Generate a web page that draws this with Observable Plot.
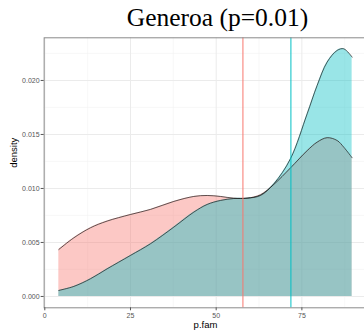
<!DOCTYPE html>
<html><head><meta charset="utf-8">
<script src="https://cdn.jsdelivr.net/npm/d3@7"></script>
<script src="https://cdn.jsdelivr.net/npm/@observablehq/plot@0.6"></script>
<style>
html,body{margin:0;padding:0;overflow:hidden;background:#fff;width:364px;height:333px}
#chart svg{max-width:none!important;display:block}
</style></head>
<body><div id="chart"></div>
<script>
const title = "Generoa (p=0.01)";
const xLabel = "p.fam";
const yLabel = "density";
const xTicks = [0, 25, 50, 75];
const xMinor = [12.5, 37.5, 62.5, 87.5];
const yTicks = [0, 0.005, 0.010, 0.015, 0.020];
const yMinor = [0.0025, 0.0075, 0.0125, 0.0175, 0.0225];
const groups = ["A", "B"];
const groupColors = ["#F8766D", "#00BFC4"];
const meanLines = [57.8, 71.8];
const xs = [4.09, 8.47, 13.33, 18.19, 25.0, 30.83, 37.64, 43.47, 47.37, 51.25, 55.14, 59.03, 62.92, 66.81, 71.67, 76.54, 79.46, 82.37, 85.29, 87.23, 89.66];
const densityA = [0.00435, 0.00543, 0.00636, 0.00698, 0.00759, 0.00806, 0.0088, 0.00926, 0.00935, 0.00926, 0.0091, 0.0091, 0.00941, 0.01037, 0.0119, 0.0135, 0.01429, 0.0147, 0.01444, 0.01382, 0.01284];
const densityB = [0.00056, 0.00093, 0.00164, 0.00256, 0.0038, 0.00488, 0.00642, 0.00781, 0.00852, 0.00889, 0.00907, 0.0091, 0.00935, 0.01043, 0.01275, 0.01691, 0.01954, 0.0217, 0.02278, 0.02293, 0.02216];

const rowsA = xs.map((x, i) => ({x, d: densityA[i], g: groups[0]}));
const rowsB = xs.map((x, i) => ({x, d: densityB[i], g: groups[1]}));
const curve = "catmull-rom";
const sans = "Liberation Sans, Arial, sans-serif";

const plot = Plot.plot({
  width: 368, height: 333,
  marginLeft: 43.65, marginRight: 1.7, marginTop: 37.3, marginBottom: 25.7,
  x: {domain: [-0.19, 93.94]},
  y: {domain: [-0.00105, 0.02395]},
  style: {fontFamily: sans, background: "#fff"},
  marks: [
    Plot.ruleX(xMinor, {stroke: "#f4f4f4", strokeWidth: 0.6}),
    Plot.ruleY(yMinor, {stroke: "#f4f4f4", strokeWidth: 0.6}),
    Plot.ruleX(xTicks, {stroke: "#ebebeb", strokeWidth: 1}),
    Plot.ruleY(yTicks, {stroke: "#ebebeb", strokeWidth: 1}),
    Plot.areaY(rowsA, {x: "x", y: "d", fill: groupColors[0], fillOpacity: 0.4, curve}),
    Plot.areaY(rowsB, {x: "x", y: "d", fill: groupColors[1], fillOpacity: 0.4, curve}),
    Plot.line(rowsA, {x: "x", y: "d", stroke: "#1a1a1a", strokeWidth: 0.7, curve}),
    Plot.line(rowsB, {x: "x", y: "d", stroke: "#1a1a1a", strokeWidth: 0.7, curve}),
    Plot.ruleX([meanLines[0]], {stroke: groupColors[0], strokeWidth: 1}),
    Plot.ruleX([meanLines[1]], {stroke: groupColors[1], strokeWidth: 1}),
    Plot.frame({stroke: "#8a8a8a", strokeWidth: 1}),
    Plot.axisX(xTicks, {tickSize: 3, tickPadding: 2, fontSize: 7, color: "#555", label: null}),
    Plot.axisY(yTicks, {tickSize: 3, tickPadding: 1.5, fontSize: 7, color: "#555", label: null, tickFormat: d3.format(".3f")}),
    Plot.text([xLabel], {text: d => d, frameAnchor: "bottom", dy: 20.2, lineAnchor: "bottom", fontSize: 9.5, fill: "#000"}),
    Plot.text([yLabel], {text: d => d, frameAnchor: "left", dx: -30, dy: -5, rotate: -90, lineAnchor: "middle", fontSize: 9.5, fill: "#000"}),
    Plot.text([title], {text: d => d, frameAnchor: "top", dx: 12, dy: -12.3, lineAnchor: "bottom", fontSize: 25.5, fontFamily: "Liberation Serif, Times New Roman, serif", fill: "#000"})
  ]
});
document.getElementById("chart").appendChild(plot);
</script>
</body></html>
